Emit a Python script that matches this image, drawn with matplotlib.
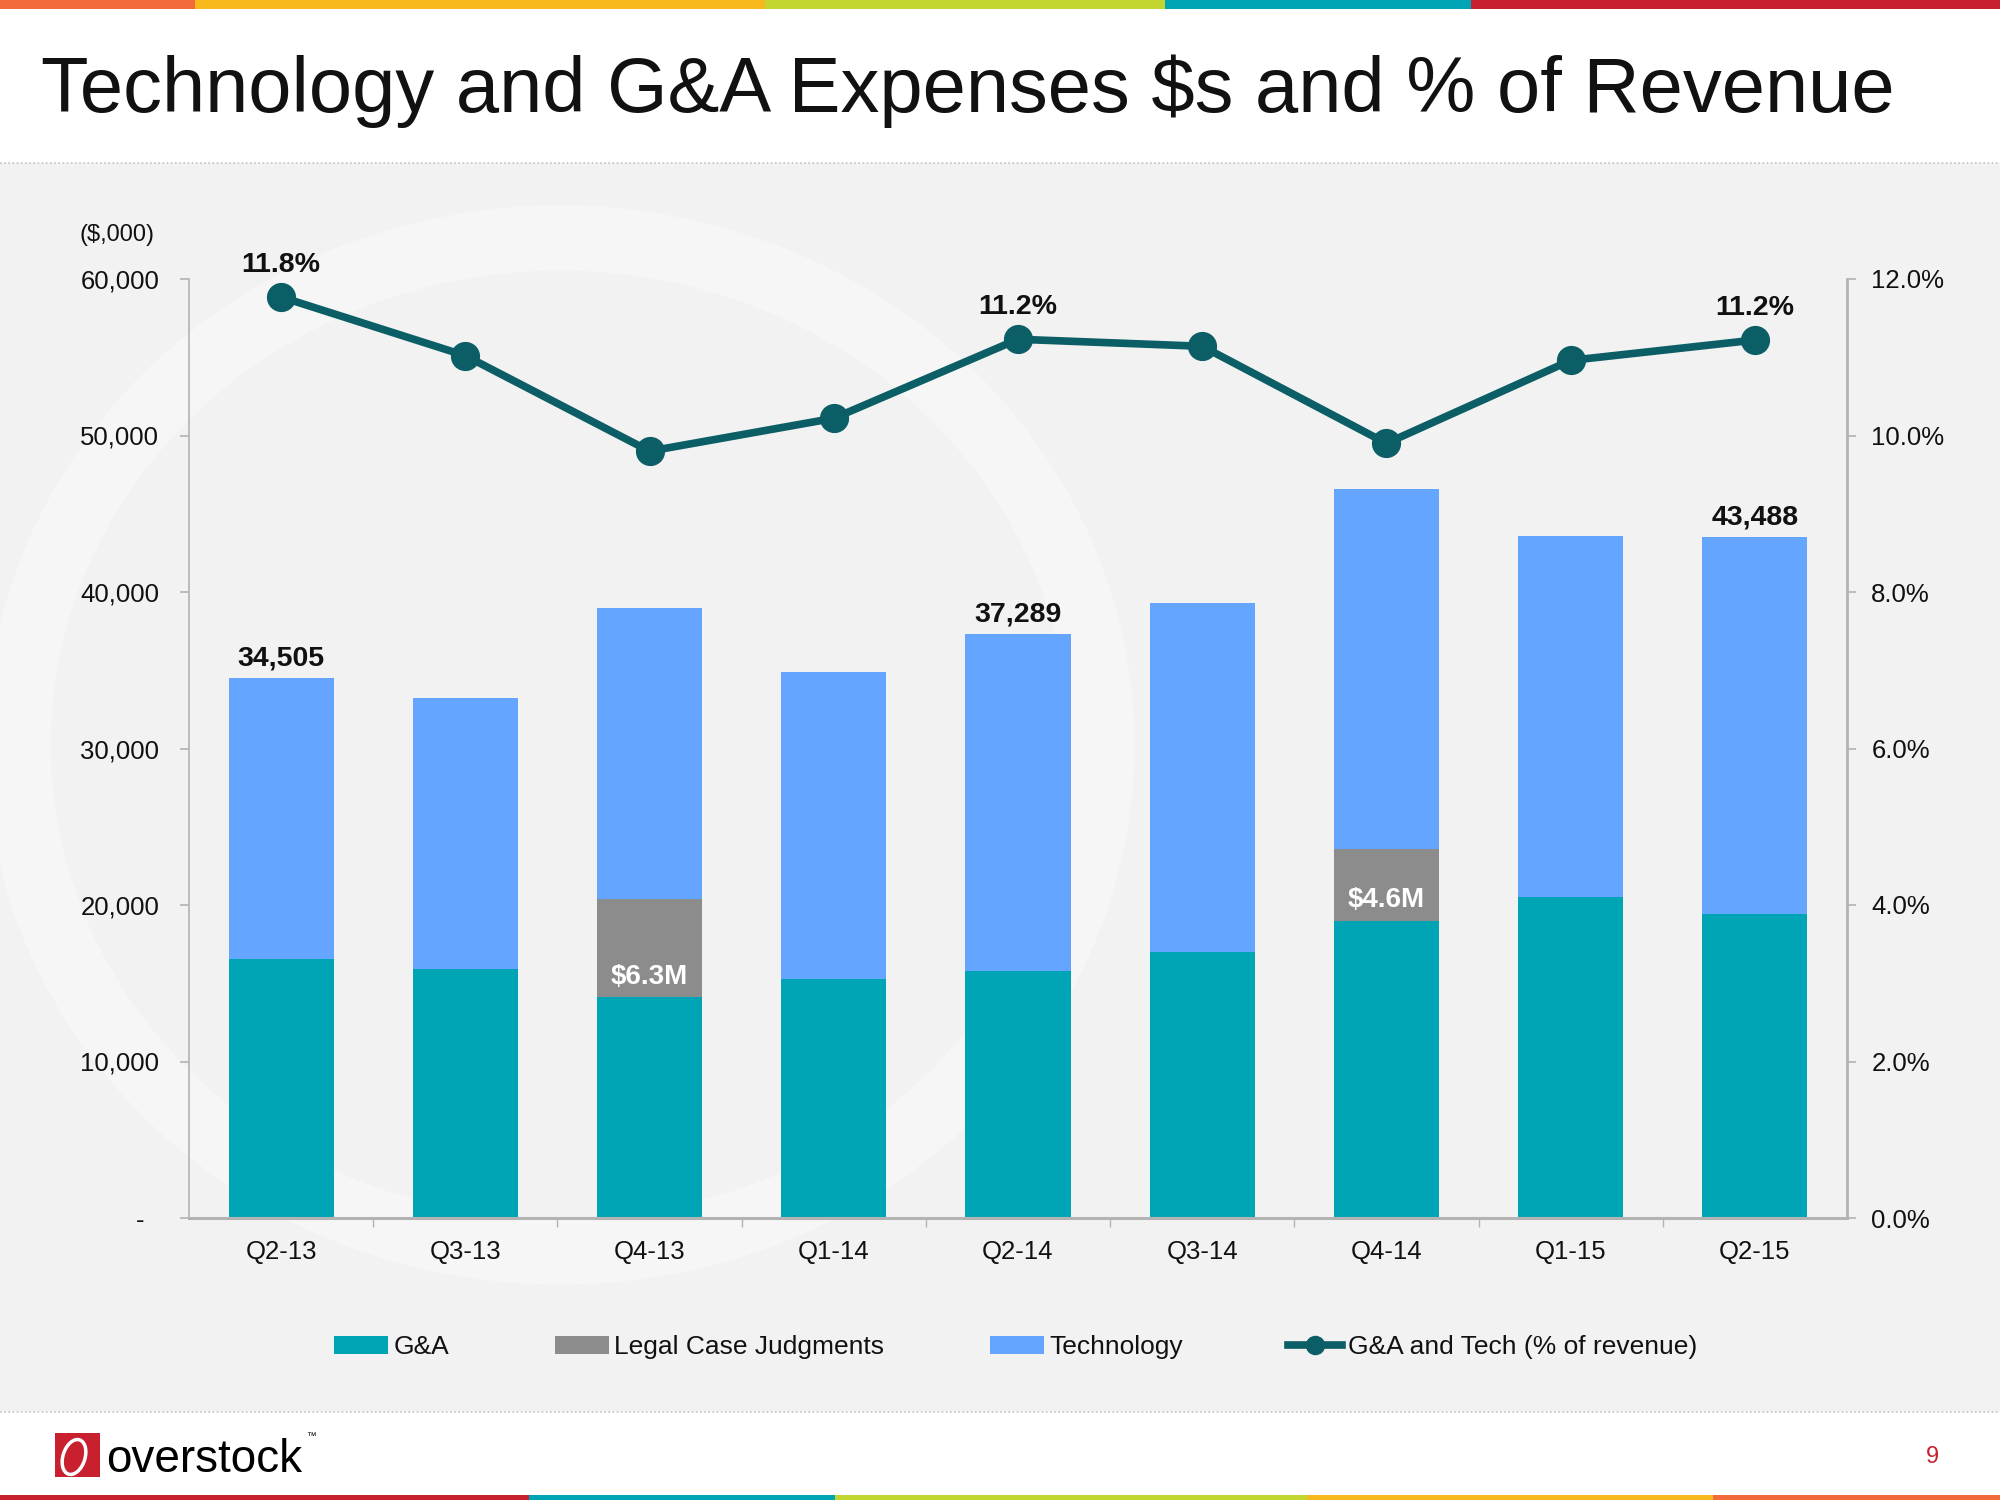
import matplotlib
matplotlib.use('Agg')
import numpy as np
import matplotlib.pyplot as plt
from matplotlib.patches import Rectangle, Ellipse
from matplotlib.lines import Line2D
from matplotlib.ticker import FuncFormatter

# data ($000s)
quarters = ['Q2-13', 'Q3-13', 'Q4-13', 'Q1-14', 'Q2-14', 'Q3-14', 'Q4-14', 'Q1-15', 'Q2-15']
gna = [16550, 15900, 14100, 15250, 15800, 17000, 19000, 20500, 19400]
legal = [0, 0, 6300, 0, 0, 0, 4600, 0, 0]
tech = [17955, 17300, 18550, 19650, 21489, 22300, 23000, 23100, 24088]
pct = [11.77, 11.02, 9.8, 10.22, 11.23, 11.14, 9.9, 10.96, 11.22]

total_labels = {0: '34,505', 4: '37,289', 8: '43,488'}
pct_labels = {0: '11.8%', 4: '11.2%', 8: '11.2%'}
legal_labels = {2: '$6.3M', 6: '$4.6M'}

C_GNA = '#00a5b5'
C_LEGAL = '#8c8c8c'
C_TECH = '#64a5ff'
C_LINE = '#0b5e65'
C_TXT = '#111111'
C_AX = '#b3b3b3'

plt.rcParams['font.family'] = ['Liberation Sans', 'DejaVu Sans']

W, H = 2000, 1500
fig = plt.figure(figsize=(20, 15), dpi=100)
fig.patch.set_facecolor('white')
inch = fig.dpi_scale_trans


def P(px, py):
    # pixel (from top-left) -> inches from bottom-left
    return px / 100.0, (H - py) / 100.0


def fx(px):
    return px / W


def fy(py):
    return 1 - py / H


# slide background (behind the axes)
panel = Rectangle(P(0, 1412), 20, (1412 - 163) / 100.0, transform=inch,
                  facecolor='#f2f2f2', edgecolor='none', zorder=-3)
fig.add_artist(panel)
ring = Ellipse(P(560, 745), 10.84, 10.14, transform=inch, fill=False,
               edgecolor='#f6f6f6', lw=47, zorder=-2)
fig.add_artist(ring)
ring.set_clip_path(panel)
for yy in (163, 1412):
    fig.add_artist(Line2D([0, 1], [fy(yy), fy(yy)], transform=fig.transFigure,
                          color='#c4c4c4', lw=1.2, ls=(0, (1, 1.5)), zorder=-1))

# colour strips
top_strip = [(0, 195, '#f26b3a'), (195, 765, '#f7b81b'), (765, 1165, '#c3d52f'),
             (1165, 1471, '#00a5b5'), (1471, 2000, '#c8202f')]
bot_strip = [(0, 529, '#c8202f'), (529, 835, '#00a5b5'), (835, 1307, '#c3d52f'),
             (1307, 1713, '#f7b81b'), (1713, 2000, '#f26b3a')]
for a, b, c in top_strip:
    fig.add_artist(Rectangle(P(a, 9), (b - a) / 100.0, 0.09, transform=inch,
                             facecolor=c, edgecolor='none', zorder=2))
for a, b, c in bot_strip:
    fig.add_artist(Rectangle(P(a, 1500), (b - a) / 100.0, 0.05, transform=inch,
                             facecolor=c, edgecolor='none', zorder=2))

# title
fig.text(fx(41), fy(112), 'Technology and G&A Expenses $s and % of Revenue',
         fontsize=56, color=C_TXT, va='baseline', ha='left')

# footer logo
fig.add_artist(Rectangle(P(55, 1477), 0.45, 0.44, transform=inch,
                         facecolor='#c8202f', edgecolor='none', zorder=2))
fig.add_artist(Ellipse(P(74, 1457), 0.22, 0.36, angle=-18, transform=inch, fill=False,
                       edgecolor='white', lw=2.5, zorder=3))
fig.text(fx(106), fy(1472), 'overstock', fontsize=33, color='black', va='baseline', ha='left')
fig.text(fx(306), fy(1436), '™', fontsize=7, color='black', va='center', ha='left')
fig.text(fx(1932), fy(1457), '9', fontsize=17, color='#c8202f', va='center', ha='center')

# chart
ax = fig.add_axes([fx(189), fy(1218), fx(1847) - fx(189), fy(279) - fy(1218)])
ax.patch.set_visible(False)
x = np.arange(len(quarters))
w = 0.57
base2 = np.array(gna) + np.array(legal)
tops = base2 + np.array(tech)
b1 = ax.bar(x, gna, w, color=C_GNA, zorder=2)
b2 = ax.bar(x, legal, w, bottom=gna, color=C_LEGAL, zorder=2)
b3 = ax.bar(x, tech, w, bottom=base2, color=C_TECH, zorder=2)

ax.set_xlim(-0.5, len(quarters) - 0.5)
ax.set_ylim(0, 60000)
ax.set_yticks(range(0, 60001, 10000))
ax.yaxis.set_major_formatter(FuncFormatter(lambda v, p: '-  ' if v == 0 else f'{int(v):,}'))
ax.set_xticks(x)
ax.set_xticklabels(quarters)
ax.set_xticks(x[:-1] + 0.5, minor=True)
ax.tick_params(axis='x', which='major', length=0, pad=16, labelsize=18.5, labelcolor=C_TXT)
ax.tick_params(axis='x', which='minor', length=6.5, width=1, color=C_AX)
ax.tick_params(axis='y', length=6.5, width=1.2, color=C_AX, pad=15, labelsize=18.5, labelcolor=C_TXT)
for s in ('top', 'right'):
    ax.spines[s].set_visible(False)
ax.spines['left'].set_color(C_AX)
ax.spines['left'].set_linewidth(1.2)
ax.spines['bottom'].set_color(C_AX)
ax.spines['bottom'].set_linewidth(2.2)

for i, s in total_labels.items():
    ax.annotate(s, (x[i], tops[i]), xytext=(0, 14), textcoords='offset points',
                ha='center', va='center', fontsize=20.5, fontweight='bold', color=C_TXT)
for i, s in legal_labels.items():
    ax.annotate(s, (x[i], gna[i]), xytext=(0, 15), textcoords='offset points',
                ha='center', va='center', fontsize=20, fontweight='bold', color='white', zorder=4)

ax2 = ax.twinx()
ax2.set_ylim(0, 12)
ax2.set_yticks(range(0, 13, 2))
ax2.yaxis.set_major_formatter(FuncFormatter(lambda v, p: f'{v:.1f}%'))
ax2.tick_params(axis='y', length=6.5, width=1.2, color=C_AX, pad=11, labelsize=18.5, labelcolor=C_TXT)
for s in ('top', 'left', 'bottom'):
    ax2.spines[s].set_visible(False)
ax2.spines['right'].set_color(C_AX)
ax2.spines['right'].set_linewidth(2)
ax2.plot(x, pct, color=C_LINE, lw=5.5, marker='o', ms=20, zorder=3)
for i, s in pct_labels.items():
    ax2.annotate(s, (x[i], pct[i]), xytext=(0, 23), textcoords='offset points',
                 ha='center', va='center', fontsize=20.5, fontweight='bold', color=C_TXT)

fig.text(fx(117), fy(235), '($,000)', fontsize=17, color=C_TXT, ha='center', va='center')

line_handle = Line2D([], [], color=C_LINE, lw=5.5, marker='o', ms=13)
fig.legend([b1, b2, b3, line_handle],
           ['G&A', 'Legal Case Judgments', 'Technology', 'G&A and Tech (% of revenue)'],
           loc='center left', bbox_to_anchor=(fx(334), fy(1347)), ncol=4, frameon=False,
           fontsize=19, handlelength=2.05, handletextpad=0.2, columnspacing=4.0,
           borderpad=0, borderaxespad=0, labelcolor=C_TXT)

fig.savefig('out.png', dpi=100, facecolor='white')
